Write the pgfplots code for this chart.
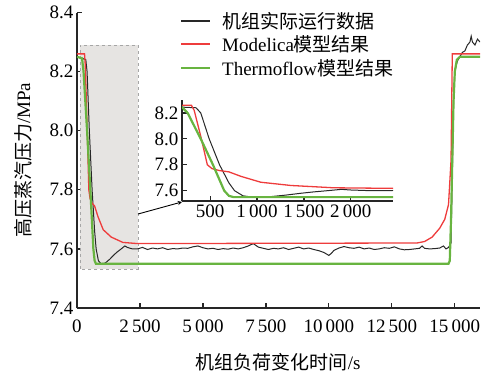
\documentclass[border=0pt]{standalone}
\usepackage{fontspec}
\setmainfont{Liberation Serif}
\newfontfamily\cjk{Noto Sans CJK SC}
\usepackage{pgfplots}
\pgfplotsset{compat=1.18}
\usepackage{pgfplotstable}

\definecolor{cblack}{RGB}{40,40,40}
\definecolor{myred}{RGB}{238,60,60}
\definecolor{cgreen}{RGB}{104,180,64}
\definecolor{cbox}{RGB}{230,228,226}

\pgfplotstableread{
x y
0 8.25
200 8.245
350 8.24
400 8.20
490 8.00
600 7.80
700 7.66
760 7.60
850 7.56
950 7.55
1120 7.552
1300 7.565
1470 7.58
1600 7.59
1755 7.60
1900 7.61
2000 7.605
2200 7.60
2400 7.60
2600 7.605
2800 7.598
3000 7.603
3200 7.600
3400 7.604
3600 7.598
3800 7.601
4000 7.600
4200 7.603
4400 7.602
4600 7.607
4800 7.610
5000 7.604
5200 7.600
5400 7.602
5600 7.598
5800 7.601
6000 7.599
6200 7.603
6400 7.600
6600 7.604
6800 7.610
7000 7.618
7100 7.612
7200 7.606
7400 7.602
7600 7.598
7800 7.602
8000 7.600
8200 7.604
8400 7.598
8600 7.602
8800 7.606
9000 7.600
9200 7.603
9400 7.598
9600 7.594
9800 7.588
10000 7.578
10100 7.585
10200 7.595
10400 7.603
10600 7.608
10800 7.604
11000 7.602
11200 7.606
11400 7.600
11600 7.603
11800 7.598
12000 7.600
12200 7.604
12400 7.602
12600 7.607
12800 7.600
13000 7.597
13200 7.598
13400 7.600
13600 7.602
13700 7.610
13800 7.602
14000 7.600
14200 7.601
14400 7.603
14550 7.610
14650 7.600
14750 7.605
14850 7.62
14900 7.85
14950 8.10
15000 8.20
15100 8.235
15200 8.25
15300 8.265
15400 8.27
15500 8.29
15600 8.30
15650 8.32
15700 8.30
15800 8.29
15900 8.31
16000 8.30
}\tblack

\pgfplotstableread{
x y
0 8.26
300 8.26
330 8.22
400 8.02
470 7.80
520 7.77
600 7.755
700 7.745
830 7.71
1040 7.665
1360 7.64
1820 7.622
2400 7.618
13500 7.62
13800 7.625
14100 7.64
14400 7.67
14600 7.70
14750 7.75
14850 7.90
14900 8.26
16000 8.26
}\tred

\pgfplotstableread{
x y
0 8.25
200 8.245
260 8.20
400 8.00
530 7.80
650 7.60
700 7.56
750 7.55
14750 7.55
14800 7.56
14850 7.70
14950 8.10
15000 8.20
15080 8.24
15200 8.25
16000 8.25
}\tgreen

\pgfplotsset{
  every axis/.append style={font=\fontsize{19}{23}\selectfont},
  /pgf/number format/assume math mode=true,
  /pgf/number format/1000 sep={\,},
}

\begin{document}
\begin{tikzpicture}
\path[use as bounding box] (-77pt,-68pt) rectangle (407pt,308pt);
\begin{axis}[
  scale only axis, width=403pt, height=295.5pt,
  at={(0pt,0pt)}, anchor=south west,
  xmin=0, xmax=16000, ymin=7.4, ymax=8.4,
  axis lines=left,
  axis line style={-, line width=1.3pt, black!85},
  tick align=inside, major tick length=5pt,
  tick style={line width=1.2pt, black!85},
  xtick={0,2500,5000,7500,10000,12500,15000},
  ytick={7.4,7.6,7.8,8.0,8.2,8.4},
  scaled ticks=false,
  yticklabel style={/pgf/number format/.cd, fixed, fixed zerofill, precision=1},
  xticklabel style={yshift=-8pt},
  xlabel={{\cjk 机组负荷变化时间}/s},
  ylabel={{\cjk 高压蒸汽压力}/MPa},
  xlabel style={at={(axis description cs:0.499,-0.182)}, anchor=center},
  ylabel style={at={(axis description cs:-0.134,0.5)}, anchor=center, rotate=0},
]
\draw[gray!70, dashed, fill=cbox] (axis cs:120,7.533) rectangle (axis cs:2420,8.29);
\addplot[cblack, line width=1pt] table[x=x,y=y] {\tblack};
\addplot[myred, line width=1.3pt] table[x=x,y=y] {\tred};
\addplot[cgreen, line width=2.2pt] table[x=x,y=y] {\tgreen};
\draw[black, line width=0.9pt, -stealth] (axis cs:2420,7.718) -- (axis cs:4169,7.759);
\end{axis}

% legend
\draw[cblack, line width=1.4pt] (104pt,287pt) -- (133pt,287pt);
\node[anchor=base west, inner sep=0pt, font=\fontsize{19}{23}\selectfont] at (145pt,280pt) {{\cjk 机组实际运行数据}};
\draw[myred, line width=1.7pt] (104pt,264pt) -- (133pt,264pt);
\node[anchor=base west, inner sep=0pt, font=\fontsize{19}{23}\selectfont] at (145pt,257pt) {Modelica{\cjk 模型结果}};
\draw[cgreen, line width=2.2pt] (104pt,240pt) -- (133pt,240pt);
\node[anchor=base west, inner sep=0pt, font=\fontsize{19}{23}\selectfont] at (145pt,233pt) {Thermoflow{\cjk 模型结果}};

\begin{axis}[
  scale only axis, width=211pt, height=101pt,
  at={(105pt,107pt)}, anchor=south west,
  xmin=200, xmax=2450, ymin=7.52, ymax=8.3,
  axis lines=left,
  axis line style={-, line width=1.3pt, black!85},
  tick align=inside, major tick length=5pt,
  tick style={line width=1.2pt, black!85},
  xtick={500,1000,1500,2000},
  ytick={7.6,7.8,8.0,8.2},
  scaled ticks=false,
  yticklabel style={/pgf/number format/.cd, fixed, fixed zerofill, precision=1},
]
\addplot[cblack, line width=1pt] table[x=x,y=y] {\tblack};
\addplot[myred, line width=1.3pt] table[x=x,y=y] {\tred};
\addplot[cgreen, line width=2.2pt] table[x=x,y=y] {\tgreen};
\end{axis}
\end{tikzpicture}
\end{document}
